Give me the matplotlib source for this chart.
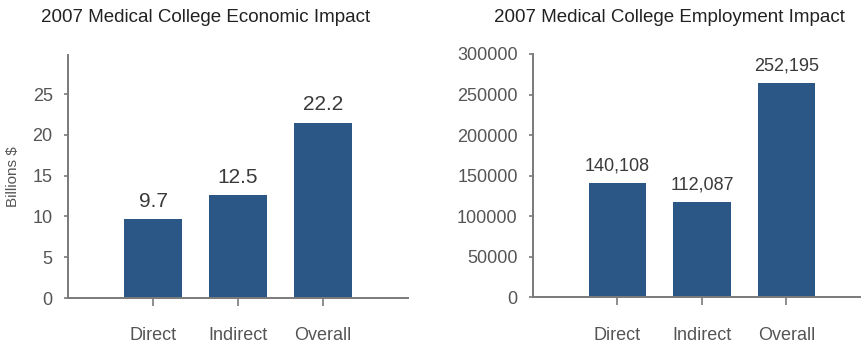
import matplotlib.pyplot as plt

categories = ["Direct", "Indirect", "Overall"]

# left panel: economic impact, billions $
econ_values = [9.7, 12.6, 21.5]
econ_labels = ["9.7", "12.5", "22.2"]
econ_ticks = [0, 5, 10, 15, 20, 25]

# right panel: employment impact
jobs_values = [141500, 117500, 264000]
jobs_labels = ["140,108", "112,087", "252,195"]
jobs_ticks = [0, 50000, 100000, 150000, 200000, 250000, 300000]

BAR = "#2b5787"
AXIS = "#7a7a7a"
TXT = "#555555"

plt.rcParams['font.family'] = ['Liberation Sans', 'DejaVu Sans']

fig = plt.figure(figsize=(8.62, 3.47), dpi=100)
ax1 = fig.add_axes([0.0789, 0.1412, 0.3944, 0.700])
ax2 = fig.add_axes([0.6183, 0.1427, 0.3794, 0.7017])


def style(ax, ticks, xmax, ymax):
    x = range(len(categories))
    ax.set_xlim(-1, xmax)
    ax.set_ylim(0, ymax)
    ax.set_xticks(list(x))
    ax.set_xticklabels(categories)
    ax.set_yticks(ticks)
    for s in ["top", "right"]:
        ax.spines[s].set_visible(False)
    for s in ["left", "bottom"]:
        ax.spines[s].set_color(AXIS)
        ax.spines[s].set_linewidth(1.4)
    ax.tick_params(axis="x", length=6, width=1.2, color=AXIS, pad=15,
                   labelsize=13, labelcolor=TXT)
    ax.tick_params(axis="y", length=3, width=1.2, color=AXIS, pad=8,
                   labelsize=13, labelcolor=TXT)


x = range(len(categories))
ax1.bar(x, econ_values, width=0.68, color=BAR, zorder=2)
for i, v in enumerate(econ_values):
    ax1.annotate(econ_labels[i], (i, v), xytext=(0, 6), textcoords="offset points",
                 ha="center", va="bottom", fontsize=15, color="#3a3a3a")
style(ax1, econ_ticks, 3.0, 29.8)
ax1.set_ylabel("Billions $", fontsize=11, color=TXT)
ax1.yaxis.set_label_coords(-0.141, 0.5)

ax2.bar(x, jobs_values, width=0.68, color=BAR, zorder=2)
for i, v in enumerate(jobs_values):
    ax2.annotate(jobs_labels[i], (i, v), xytext=(0, 6), textcoords="offset points",
                 ha="center", va="bottom", fontsize=13, color="#3a3a3a")
style(ax2, jobs_ticks, 2.87, 300000)

fig.text(0.239, 0.95, "2007 Medical College Economic Impact", ha="center",
         va="center", fontsize=13.5, color="#222222")
fig.text(0.777, 0.95, "2007 Medical College Employment Impact", ha="center",
         va="center", fontsize=13.5, color="#222222")

fig.savefig("out.png", dpi=100)
